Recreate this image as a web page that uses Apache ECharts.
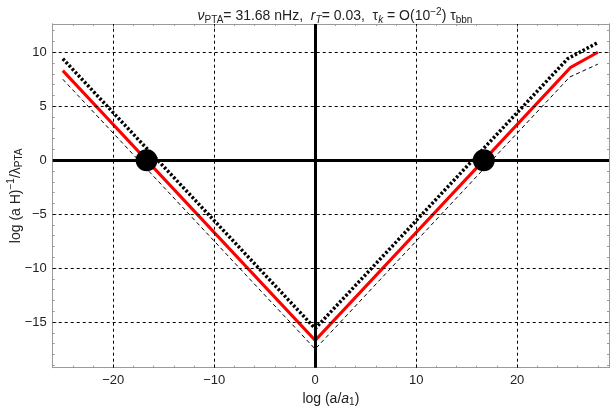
<!DOCTYPE html>
<html><head><meta charset="utf-8">
<script src="https://cdn.jsdelivr.net/npm/echarts@6/dist/echarts.min.js"></script>
<style>html,body{margin:0;padding:0;background:#fff}#c{width:610px;height:409px}</style>
</head><body><div id="c"></div>
<script>
// ---- data ----
const redX   = [-25, 0, 25.3, 28];
const redY   = [8.3, -16.7, 8.6, 10.0];
const upperX = [-25, 0, 25, 28];
const upperY = [9.4, -15.6, 9.4, 10.9];
const lowerX = [-25, 0, 25.2, 28];
const lowerY = [7.5, -17.5, 7.7, 8.9];
const dotX = [-16.7, 16.7];
const dotY = [0, 0];
const xMajor = [-20, -10, 0, 10, 20];
const yMajor = [-15, -10, -5, 0, 5, 10];
const xMinor = [-26,-24,-22,-18,-16,-14,-12,-8,-6,-4,-2,2,4,6,8,12,14,16,18,22,24,26,28];
const yMinor = [-19,-18,-17,-16,-14,-13,-12,-11,-9,-8,-7,-6,-4,-3,-2,-1,1,2,3,4,6,7,8,9,11,12];
const xRange = [-26, 29.1];
const yRange = [-19.23, 12.62];

const pairs = (xs, ys) => xs.map((x, i) => [x, ys[i]]);
const fmt = v => String(v).replace('-', '\u2212');
const FONT = 'Liberation Sans';
const frameCol = '#9a9a9a';
const TXT = '#222';

function rs(size, extra) {
  return Object.assign({ fontSize: size, fontFamily: FONT, color: TXT, fontWeight: 'normal' }, extra || {});
}
const RICH = {
  n: rs(14, { lineHeight: 18 }),
  i: rs(14, { lineHeight: 18, fontStyle: 'italic' }),
  s: rs(10, { lineHeight: 10, verticalAlign: 'bottom' }),
  si: rs(10, { lineHeight: 10, verticalAlign: 'bottom', fontStyle: 'italic' }),
  sup: rs(10, { lineHeight: 10, verticalAlign: 'top' })
};

function mkAxis(range, pos, values, len, labels, extra) {
  return Object.assign({
    type: 'value', min: range[0], max: range[1], position: pos,
    axisLine: { show: true, onZero: false, lineStyle: { color: frameCol, width: 1 } },
    axisTick: { show: true, inside: true, length: len, customValues: values, lineStyle: { color: frameCol } },
    axisLabel: labels ? { show: true, customValues: values, formatter: fmt, color: TXT, fontSize: 13, fontFamily: FONT, margin: 6 } : { show: false },
    splitLine: { show: false }
  }, extra || {});
}

const chart = echarts.init(document.getElementById('c'), null, { renderer: 'canvas' });
const gridLines = [];
xMajor.filter(v => v !== 0).forEach(v => gridLines.push({ xAxis: v }));
yMajor.filter(v => v !== 0).forEach(v => gridLines.push({ yAxis: v }));

chart.setOption({
  animation: false,
  backgroundColor: '#fff',
  title: {
    left: 330, textAlign: 'center', top: 2,
    text: '{i|\u03bd}{s|PTA}{n|= 31.68 nHz,  }{i|r}{si|T}{n|= 0.03,  \u03c4}{si|k}{n| = O(10}{sup|\u22122}{n|) \u03c4}{s|bbn}',
    textStyle: { fontWeight: 'normal', rich: RICH }
  },
  grid: { left: 52.7, right: 610 - 609, top: 24, bottom: 409 - 367.7, containLabel: false, outerBoundsMode: 'none' },
  xAxis: [
    mkAxis(xRange, 'bottom', xMajor, 4, true, {
      name: '{n|log (a/}{i|a}{s|1}{n|)}', nameLocation: 'middle', nameGap: 22, nameMoveOverlap: false,
      nameTextStyle: { rich: RICH }
    }),
    mkAxis(xRange, 'bottom', xMinor, 2, false),
    mkAxis(xRange, 'top', xMajor, 4, false),
    mkAxis(xRange, 'top', xMinor, 2, false)
  ],
  yAxis: [
    mkAxis(yRange, 'left', yMajor, 4, true, {
      name: '{n|log (a H)}{sup|\u22121}{n|/\u03bb}{s|PTA}', nameLocation: 'middle', nameGap: 28, nameRotate: 90, nameMoveOverlap: false,
      nameTextStyle: { rich: RICH }
    }),
    mkAxis(yRange, 'left', yMinor, 2, false),
    mkAxis(yRange, 'right', yMajor, 4, false),
    mkAxis(yRange, 'right', yMinor, 2, false)
  ],
  series: [
    {
      type: 'line', data: [], silent: true, z: 1,
      markLine: {
        symbol: 'none', silent: true, label: { show: false },
        lineStyle: { color: '#000', type: [3, 3], width: 1 },
        data: gridLines
      }
    },
    {
      type: 'line', data: [], silent: true, z: 2,
      markLine: {
        symbol: 'none', silent: true, label: { show: false },
        lineStyle: { color: '#000', type: 'solid', width: 3 },
        data: [{ xAxis: 0 }, { yAxis: 0 }]
      }
    },
    {
      type: 'line', data: pairs(lowerX, lowerY), symbol: 'none', z: 3,
      lineStyle: { color: '#000', width: 1, type: [4, 3] }
    },
    {
      type: 'line', data: pairs(upperX, upperY), symbol: 'none', z: 3,
      lineStyle: { color: '#000', width: 3.5, type: [2.5, 2] }
    },
    {
      type: 'line', data: pairs(redX, redY), symbol: 'none', z: 4,
      lineStyle: { color: '#ff0000', width: 3 }
    },
    {
      type: 'scatter', data: pairs(dotX, dotY), symbol: 'circle', symbolSize: 22, z: 5,
      itemStyle: { color: '#000', opacity: 1 }
    }
  ]
});
</script>
</body></html>
